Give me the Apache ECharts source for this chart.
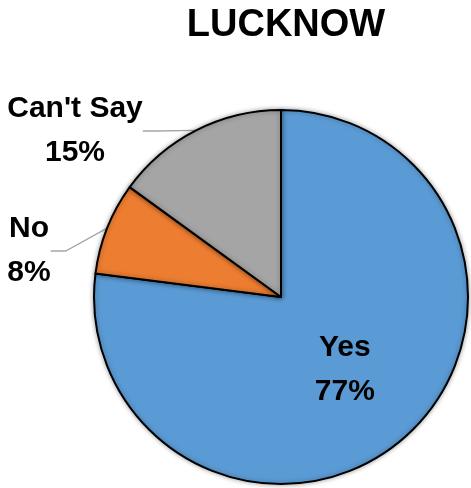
<!DOCTYPE html>
<html>
<head>
<meta charset="utf-8">
<script src="https://cdn.jsdelivr.net/npm/echarts@6/dist/echarts.min.js"></script>
<style>
  html, body { margin: 0; padding: 0; background: #fff; }
  #chart { width: 471px; height: 488px; }
</style>
</head>
<body>
<div id="chart"></div>
<script>
// Survey responses for Lucknow
const categories = ['Yes', 'No', "Can't Say"];
const shares = [77, 8, 15];
const sliceColors = ['#5B9BD5', '#ED7D31', '#A5A5A5'];

const FONT = '"Liberation Sans", Arial, sans-serif';

// Outside label anchors for the small slices (by data index)
const outsideLabelPos = {
  1: { x: 29, y: 251 },
  2: { x: 75, y: 131 }
};

const chart = echarts.init(document.getElementById('chart'));
chart.setOption({
  animation: false,
  title: {
    text: 'LUCKNOW',
    left: 281,
    top: 2,
    textAlign: 'center',
    textStyle: { fontFamily: FONT, fontWeight: 'bold', fontSize: 38, color: '#000' }
  },
  series: [{
    type: 'pie',
    center: [281, 297],
    radius: 187,
    startAngle: 90,
    clockwise: true,
    avoidLabelOverlap: false,
    itemStyle: {
      borderColor: '#000',
      borderWidth: 2,
      shadowBlur: 5,
      shadowColor: 'rgba(0,0,0,0.35)'
    },
    label: {
      formatter: '{b}\n{c}%',
      fontFamily: FONT,
      fontWeight: 'bold',
      fontSize: 30,
      lineHeight: 44,
      color: '#000',
      align: 'center'
    },
    labelLine: {
      show: true,
      length: 20,
      length2: 15,
      lineStyle: { color: '#A6A6A6', width: 1.3 }
    },
    labelLayout: function (params) {
      const p = outsideLabelPos[params.dataIndex];
      if (!p) return {};
      return { x: p.x, y: p.y, align: 'center', verticalAlign: 'middle' };
    },
    data: categories.map((name, i) => ({
      name: name,
      value: shares[i],
      itemStyle: { color: sliceColors[i] },
      label: { position: i === 0 ? 'inside' : 'outside' },
      labelLine: { show: i !== 0 }
    }))
  }]
});
</script>
</body>
</html>
